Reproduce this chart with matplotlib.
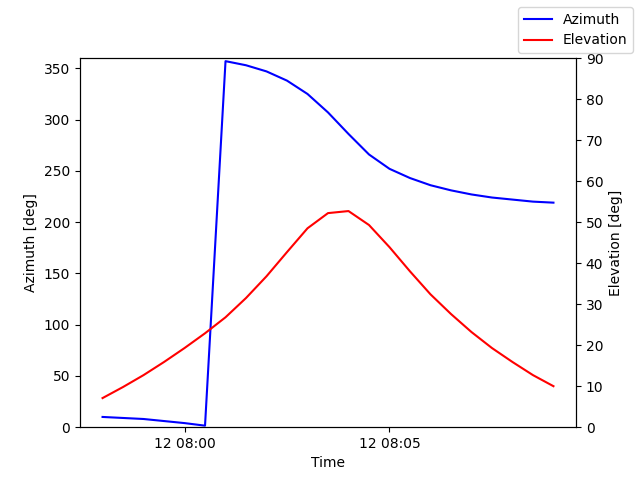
import numpy as np
import pandas as pd
import matplotlib
matplotlib.use("Agg")
import matplotlib.pyplot as plt
import matplotlib.dates as mdates

times = pd.date_range("2024-01-12 07:58:00", "2024-01-12 08:09:00", freq="30s")
azimuth = [10, 9, 8, 6, 4, 1.5, 357, 353, 347, 338, 325, 307, 286, 266, 252,
           243, 236, 231, 227, 224, 222, 220, 219]
elevation = [7.1, 9.8, 12.7, 15.9, 19.3, 22.9, 26.8, 31.5, 36.8, 42.7, 48.5, 52.2,
             52.7, 49.3, 43.9, 38.0, 32.4, 27.6, 23.2, 19.3, 15.9, 12.7, 10.0]

fig, ax = plt.subplots(figsize=(6.4, 4.8), dpi=100)
fig.subplots_adjust(left=0.125, right=0.9, top=0.879, bottom=0.11)
ax.plot(times, azimuth, color="blue", label="Azimuth")
ax.set_ylim(0, 360)
ax.set_ylabel("Azimuth [deg]")
ax.set_xlabel("Time")

ax2 = ax.twinx()
ax2.plot(times, elevation, color="red", label="Elevation")
ax2.set_ylim(0, 90)
ax2.set_ylabel("Elevation [deg]")

ax.xaxis.set_major_locator(mdates.MinuteLocator(byminute=[0, 5]))
ax.xaxis.set_major_formatter(mdates.DateFormatter("%d %H:%M"))

fig.legend()
fig.savefig("out.png")
